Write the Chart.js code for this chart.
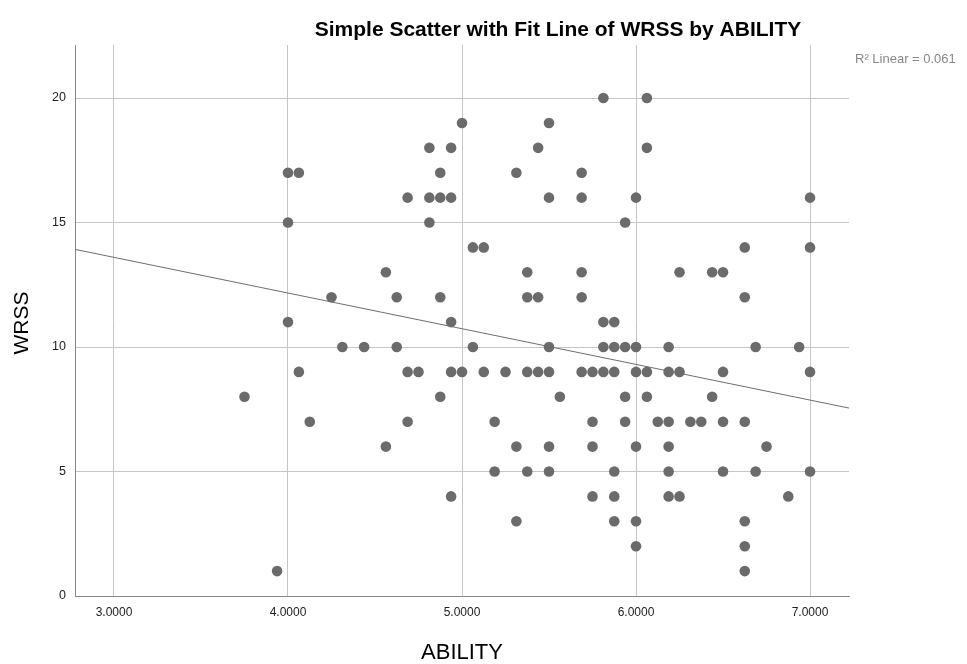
<!DOCTYPE html>
<html>
<head>
<meta charset="utf-8">
<script src="https://cdn.jsdelivr.net/npm/chart.js@4/dist/chart.umd.min.js"></script>
<style>
  html, body { margin: 0; padding: 0; background: #fff; }
  #wrap { width: 967px; height: 664px; }
</style>
</head>
<body>
<div id="wrap"><canvas id="scatterChart" width="967" height="664"></canvas></div>
<script>
// WRSS value for each row of points, and the ABILITY scores sitting on that row
var wrssLevels = [20, 19, 18, 17, 16, 15, 14, 13, 12, 11, 10, 9, 8, 7, 6, 5, 4, 3, 2, 1];
var abilityByLevel = [
    [5.8125, 6.0625],
    [5.0, 5.5],
    [4.8125, 4.9375, 5.4375, 6.0625],
    [4.0, 4.0625, 4.875, 5.3125, 5.6875],
    [4.6875, 4.8125, 4.875, 4.9375, 5.5, 5.6875, 6.0, 7.0],
    [4.0, 4.8125, 5.9375],
    [5.0625, 5.125, 6.625, 7.0],
    [4.5625, 5.375, 5.6875, 6.25, 6.4375, 6.5],
    [4.25, 4.625, 4.875, 5.375, 5.4375, 5.6875, 6.625],
    [4.0, 4.9375, 5.8125, 5.875],
    [4.3125, 4.4375, 4.625, 5.0625, 5.5, 5.8125, 5.875, 5.9375, 6.0, 6.1875, 6.6875, 6.9375],
    [4.0625, 4.6875, 4.75, 4.9375, 5.0, 5.125, 5.25, 5.375, 5.4375, 5.5, 5.6875, 5.75, 5.8125, 5.875, 6.0, 6.0625, 6.1875, 6.25, 6.5, 7.0],
    [3.75, 4.875, 5.5625, 5.9375, 6.0625, 6.4375],
    [4.125, 4.6875, 5.1875, 5.75, 5.9375, 6.125, 6.1875, 6.3125, 6.375, 6.5, 6.625],
    [4.5625, 5.3125, 5.5, 5.75, 6.0, 6.1875, 6.75],
    [5.1875, 5.375, 5.5, 5.875, 6.1875, 6.5, 6.6875, 7.0],
    [4.9375, 5.75, 5.875, 6.1875, 6.25, 6.875],
    [5.3125, 5.875, 6.0, 6.625],
    [6.0, 6.625],
    [3.9375, 6.625]
];
var xTicks = [3, 4, 5, 6, 7];
var yTicks = [0, 5, 10, 15, 20];
var xRange = [2.776, 7.224];
var yRange = [0, 22.13];
// fit line
var fitIntercept = 17.9;
var fitSlope = -1.433;
var rSquaredText = '0.061';

var points = [];
wrssLevels.forEach(function(w, i) {
    abilityByLevel[i].forEach(function(a) {
        points.push({ x: a, y: w });
    });
});
var fitLine = xRange.map(function(x) {
    return { x: x, y: fitIntercept + fitSlope * x };
});

var fontFam = '"Liberation Sans", Arial, sans-serif';

// title, axis titles and the R² note
var labelsPlugin = {
    id: 'spssLabels',
    afterDraw: function(chart) {
        var c = chart.ctx;
        var area = chart.chartArea;
        c.save();
        c.fillStyle = '#000';
        c.textAlign = 'center';
        c.textBaseline = 'alphabetic';
        c.font = 'bold 21px ' + fontFam;
        c.fillText('Simple Scatter with Fit Line of WRSS by ABILITY', 558, 36);

        c.font = '22px ' + fontFam;
        c.fillText('ABILITY', (area.left + area.right) / 2, 659);

        c.save();
        c.translate(28, 323);
        c.rotate(-Math.PI / 2);
        c.font = '21px ' + fontFam;
        c.fillText('WRSS', 0, 0);
        c.restore();

        c.fillStyle = '#888';
        c.textAlign = 'left';
        c.font = '13px ' + fontFam;
        c.fillText('R\u00B2 Linear = ' + rSquaredText, 855, 63);
        c.restore();
    }
};

var ctx = document.getElementById('scatterChart').getContext('2d');
var chart = new Chart(ctx, {
    type: 'scatter',
    data: {
        datasets: [{
            label: 'WRSS',
            data: points,
            backgroundColor: '#6b6b6b',
            borderWidth: 0,
            pointRadius: 5.3,
            pointHoverRadius: 5.3
        }, {
            type: 'line',
            label: 'Fit',
            data: fitLine,
            borderColor: '#6e6e6e',
            borderWidth: 1,
            pointRadius: 0,
            fill: false
        }]
    },
    options: {
        responsive: false,
        animation: false,
        events: [],
        layout: { padding: { top: 45, right: 118, left: 0, bottom: 0 } },
        plugins: {
            legend: { display: false },
            tooltip: { enabled: false }
        },
        scales: {
            x: {
                type: 'linear',
                min: xRange[0],
                max: xRange[1],
                afterBuildTicks: function(s) {
                    s.ticks = xTicks.map(function(v) { return { value: v }; });
                },
                afterFit: function(s) { s.height = 68; },
                grid: { color: '#c6c6c6', lineWidth: 1, drawTicks: false },
                border: { color: '#8a8a8a', width: 1 },
                ticks: {
                    padding: 9,
                    color: '#222',
                    font: { family: fontFam, size: 12 },
                    callback: function(v) { return v.toFixed(4); }
                }
            },
            y: {
                type: 'linear',
                min: yRange[0],
                max: yRange[1],
                afterBuildTicks: function(s) {
                    s.ticks = yTicks.map(function(v) { return { value: v }; });
                },
                afterFit: function(s) { s.width = 75; },
                grid: { color: '#c6c6c6', lineWidth: 1, drawTicks: false },
                border: { color: '#8a8a8a', width: 1 },
                ticks: {
                    padding: 9,
                    color: '#222',
                    font: { family: fontFam, size: 12.5 }
                }
            }
        }
    },
    plugins: [labelsPlugin]
});
</script>
</body>
</html>
